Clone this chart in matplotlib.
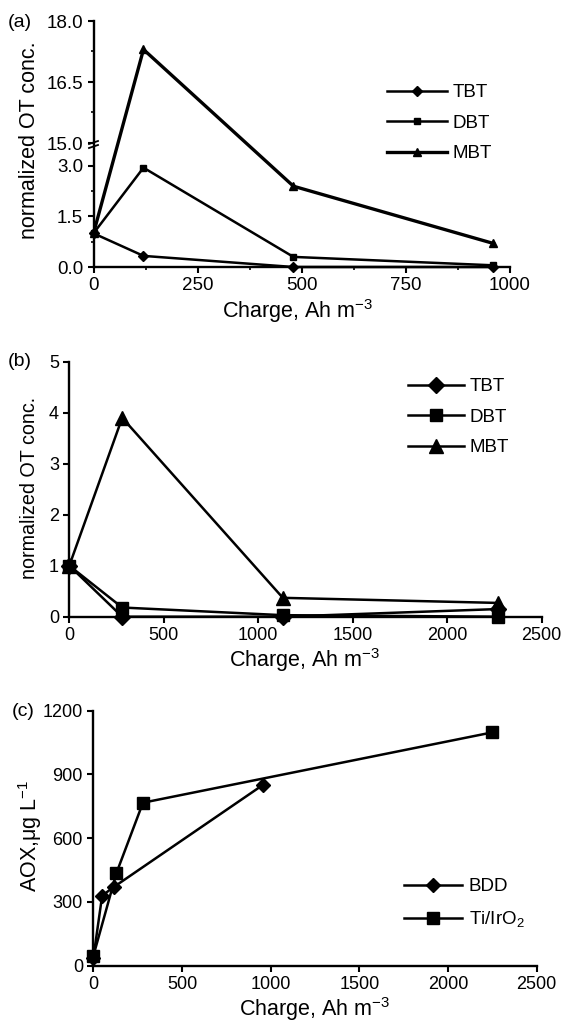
import numpy as np
import matplotlib
matplotlib.use("Agg")
import matplotlib.pyplot as plt
from matplotlib.lines import Line2D

plt.rcParams['font.family'] = ['Liberation Sans', 'DejaVu Sans']
plt.rcParams['mathtext.fontset'] = 'custom'
plt.rcParams['mathtext.rm'] = 'Liberation Sans'
plt.rcParams['mathtext.it'] = 'Liberation Sans'
plt.rcParams['mathtext.default'] = 'regular'

# ---------------- data ----------------
a_charge = [0, 120, 480, 960]
a_tbt = [1.0, 0.33, 0.0, 0.0]
a_dbt = [1.0, 2.95, 0.30, 0.05]
a_mbt = [1.0, 17.3, 2.4, 0.7]

b_charge = [0, 280, 1130, 2270]
b_tbt = [1.0, 0.0, 0.0, 0.15]
b_dbt = [1.0, 0.18, 0.03, 0.0]
b_mbt = [1.0, 3.9, 0.37, 0.27]

c_bdd_charge = [0, 50, 115, 955]
c_bdd = [35, 330, 370, 850]
c_ti_charge = [0, 130, 280, 2250]
c_ti = [45, 435, 767, 1098]

a_yticks = [0, 1.5, 3.0, 15.0, 16.5, 18.0]
a_ylabels = ['0.0', '1.5', '3.0', '15.0', '16.5', '18.0']
a_yminor = [0.75, 2.25, 15.75, 17.25]
a_xticks = [0, 250, 500, 750, 1000]
a_xminor = [125, 375, 625, 875]
b_yticks = [0, 1, 2, 3, 4, 5]
bc_xticks = [0, 500, 1000, 1500, 2000, 2500]
c_yticks = [0, 300, 600, 900, 1200]

W, H = 577, 1022
fig = plt.figure(figsize=(W / 100, H / 100), dpi=100)


def box(l, r, t, b):
    return [l / W, 1 - b / H, (r - l) / W, (b - t) / H]


def style(ax, fs):
    for s in ['top', 'right']:
        ax.spines[s].set_visible(False)
    for s in ['left', 'bottom']:
        ax.spines[s].set_linewidth(1.7)
    ax.tick_params(which='major', direction='out', length=4.5, width=1.5,
                   labelsize=fs, pad=3)
    ax.tick_params(which='minor', direction='out', length=2.5, width=1.2)


# ---------------- panel (a): broken y axis ----------------
bk_y = [0.0, 3.0, 15.0, 18.0]
bk_d = [0.0, 101.0, 124.0, 246.0]


def fwd(y):
    y = np.asarray(y, dtype=float)
    out = np.interp(y, bk_y, bk_d)
    out = np.where(y < 0, y * 101.0 / 3.0, out)
    out = np.where(y > 18, 246.0 + (y - 18) * 122.0 / 3.0, out)
    return out


def inv(d):
    d = np.asarray(d, dtype=float)
    out = np.interp(d, bk_d, bk_y)
    out = np.where(d < 0, d * 3.0 / 101.0, out)
    out = np.where(d > 246, 18 + (d - 246) * 3.0 / 122.0, out)
    return out


lw = 1.8
axa = fig.add_axes(box(93.5, 510, 21, 267))
axa.set_yscale('function', functions=(fwd, inv))
axa.plot(a_charge, a_tbt, '-', marker='D', ms=5, color='black', lw=lw, clip_on=False, label='TBT')
axa.plot(a_charge, a_dbt, '-', marker='s', ms=5, color='black', lw=lw, clip_on=False, label='DBT')
axa.plot(a_charge, a_mbt, '-', marker='^', ms=5.5, color='black', lw=lw + 0.6, clip_on=False, label='MBT')
axa.set_xlim(0, 1000)
axa.set_ylim(0, 18)
axa.set_yticks(a_yticks)
axa.set_yticklabels(a_ylabels)
axa.set_yticks(a_yminor, minor=True)
axa.set_xticks(a_xticks)
axa.set_xticks(a_xminor, minor=True)
axa.yaxis.set_minor_formatter(plt.NullFormatter())
style(axa, 13.5)
axa.legend(loc='upper left', bbox_to_anchor=(387 / W, 1 - 84 / H), bbox_transform=fig.transFigure,
           frameon=False, fontsize=13.5, handlelength=3.2, handletextpad=0.3,
           labelspacing=0.72, borderpad=0, borderaxespad=0)
# break marks on y axis
for py in (142.5, 146.5):
    fig.add_artist(Line2D([89 / W, 98 / W], [1 - (py + 1.5) / H, 1 - (py - 1.5) / H],
                          color='black', lw=1.3))

fig.text(8 / W, 1 - 22 / H, '(a)', fontsize=14, ha='left', va='center')
fig.text(30 / W, 1 - 140 / H, 'normalized OT conc.', fontsize=15.5, rotation=90, ha='center', va='center')
fig.text(298 / W, 1 - 318 / H, 'Charge, Ah m$^{-3}$', fontsize=15.5, ha='center', va='baseline')

# ---------------- panel (b) ----------------
axb = fig.add_axes(box(69.3, 541.7, 361.7, 616.7))
axb.plot(b_charge, b_tbt, '-', marker='D', ms=8.5, color='black', lw=lw, clip_on=False, label='TBT')
axb.plot(b_charge, b_dbt, '-', marker='s', ms=9, color='black', lw=lw, clip_on=False, label='DBT')
axb.plot(b_charge, b_mbt, '-', marker='^', ms=9.5, color='black', lw=lw, clip_on=False, label='MBT')
axb.set_xlim(0, 2500)
axb.set_ylim(0, 5)
axb.set_yticks(b_yticks)
axb.set_xticks(bc_xticks)
style(axb, 13)
axb.legend(loc='upper left', bbox_to_anchor=(408 / W, 1 - 378 / H), bbox_transform=fig.transFigure,
           frameon=False, fontsize=13.5, handlelength=3.0, handletextpad=0.3,
           labelspacing=0.72, borderpad=0, borderaxespad=0)
fig.text(8 / W, 1 - 362 / H, '(b)', fontsize=14, ha='left', va='center')
fig.text(30 / W, 1 - 488 / H, 'normalized OT conc.', fontsize=14.2, rotation=90, ha='center', va='center')
fig.text(305 / W, 1 - 667 / H, 'Charge, Ah m$^{-3}$', fontsize=15.5, ha='center', va='baseline')

# ---------------- panel (c) ----------------
axc = fig.add_axes(box(93.3, 536.7, 710.7, 965.7))
axc.plot(c_bdd_charge, c_bdd, '-', marker='D', ms=7.5, color='black', lw=lw, clip_on=False, label='BDD')
axc.plot(c_ti_charge, c_ti, '-', marker='s', ms=8.5, color='black', lw=lw, clip_on=False, label='Ti/IrO$_2$')
axc.set_xlim(0, 2500)
axc.set_ylim(0, 1200)
axc.set_yticks(c_yticks)
axc.set_xticks(bc_xticks)
style(axc, 13)
axc.legend(loc='upper left', bbox_to_anchor=(404 / W, 1 - 878 / H), bbox_transform=fig.transFigure,
           frameon=False, fontsize=13.5, handlelength=3.1, handletextpad=0.35,
           labelspacing=0.75, borderpad=0, borderaxespad=0)
fig.text(12 / W, 1 - 711 / H, '(c)', fontsize=14, ha='left', va='center')
fig.text(30 / W, 1 - 836 / H, 'AOX,\u03bcg L$^{-1}$', fontsize=15.5, rotation=90, ha='center', va='center')
fig.text(315 / W, 1 - 1016 / H, 'Charge, Ah m$^{-3}$', fontsize=15.5, ha='center', va='baseline')

fig.savefig('out.png', dpi=100)
